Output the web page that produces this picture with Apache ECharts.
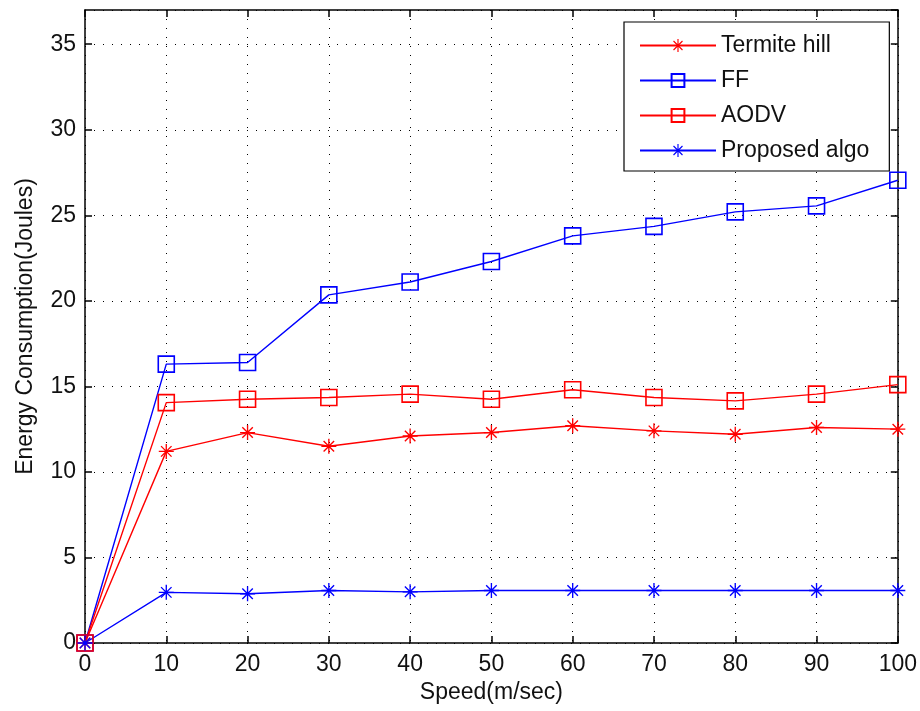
<!DOCTYPE html>
<html>
<head>
<meta charset="utf-8">
<script src="https://cdn.jsdelivr.net/npm/echarts@6/dist/echarts.min.js"></script>
<style>
  html, body { margin: 0; padding: 0; background: #fff; }
  #chart { width: 920px; height: 711px; }
</style>
</head>
<body>
<div id="chart"></div>
<script>
// Speed (m/sec) on the x axis
const speeds = [0, 10, 20, 30, 40, 50, 60, 70, 80, 90, 100];

// Energy consumption (Joules) per routing scheme
const termiteHill = [0, 11.2, 12.3, 11.5, 12.1, 12.3, 12.7, 12.4, 12.2, 12.6, 12.5];
const ffValues    = [0, 16.3, 16.4, 20.35, 21.1, 22.3, 23.8, 24.35, 25.2, 25.55, 27.05];
const aodvValues  = [0, 14.05, 14.25, 14.35, 14.55, 14.25, 14.8, 14.35, 14.15, 14.55, 15.1];
const proposed    = [0, 2.96, 2.88, 3.07, 2.99, 3.07, 3.07, 3.07, 3.07, 3.07, 3.07];

const seriesNames = ['Termite hill', 'FF', 'AODV', 'Proposed algo'];
const xTickStep = 10;
const yTickStep = 5;
const yMax = 37;

// Eight-point asterisk marker built from thin filled bars
const asterisk = 'path://M9.1 0L10.9 0L10.9 20L9.1 20Z' +
  'M0 9.1L20 9.1L20 10.9L0 10.9Z' +
  'M3.64 2.36L17.64 16.36L16.36 17.64L2.36 3.64Z' +
  'M16.36 2.36L17.64 3.64L3.64 17.64L2.36 16.36Z';

const RED = '#ff0000';
const BLUE = '#0000ff';
const FONT = 'Liberation Sans, Arial, sans-serif';
const FS = 23;

function pairs(ys) { return speeds.map((x, i) => [x, ys[i]]); }

function makeSeries(name, ys, color, marker) {
  const isStar = marker === 'star';
  return {
    name: name,
    type: 'line',
    data: pairs(ys),
    symbol: isStar ? asterisk : 'rect',
    symbolSize: isStar ? 15 : 16,
    showAllSymbol: true,
    lineStyle: { color: color, width: 1.4 },
    itemStyle: isStar
      ? { color: color, borderWidth: 0 }
      : { color: 'rgba(0,0,0,0)', borderColor: color, borderWidth: 1.6 },
    emphasis: { disabled: true },
    animation: false,
    z: 3
  };
}

const chart = echarts.init(document.getElementById('chart'), null, { renderer: 'canvas' });

const dotted = { color: '#000', width: 1, type: [1, 8] };

chart.setOption({
  backgroundColor: '#fff',
  animation: false,
  grid: { left: 85, right: 22, top: 10, bottom: 68, show: false },
  legend: {
    orient: 'vertical',
    left: 624,
    top: 22,
    data: seriesNames,
    itemWidth: 76,
    itemHeight: 16,
    itemGap: 12,
    padding: [12, 20, 9, 15],
    backgroundColor: '#fff',
    borderColor: '#000',
    borderWidth: 1.2,
    borderRadius: 0,
    textStyle: { fontFamily: FONT, fontSize: FS, color: '#111' },
    selectedMode: false
  },
  xAxis: [{
    type: 'value',
    min: 0, max: 100, interval: xTickStep,
    name: 'Speed(m/sec)',
    nameLocation: 'middle',
    nameGap: 37,
    nameTextStyle: { fontFamily: FONT, fontSize: FS, color: '#111' },
    axisLine: { onZero: false, lineStyle: { color: '#000', width: 1.5 } },
    axisTick: { inside: true, length: 7, lineStyle: { color: '#000', width: 1.5 } },
    axisLabel: { margin: 10, fontFamily: FONT, fontSize: FS, color: '#111' },
    splitLine: { show: true, lineStyle: dotted }
  }, {
    type: 'value',
    position: 'top',
    min: 0, max: 100, interval: xTickStep,
    axisLine: { onZero: false, lineStyle: { color: '#000', width: 1.5 } },
    axisTick: { inside: true, length: 7, lineStyle: { color: '#000', width: 1.5 } },
    axisLabel: { show: false },
    splitLine: { show: false }
  }],
  yAxis: [{
    type: 'value',
    min: 0, max: yMax, interval: yTickStep,
    name: 'Energy Consumption(Joules)',
    nameLocation: 'middle',
    nameGap: 48,
    nameTextStyle: { fontFamily: FONT, fontSize: FS, color: '#111' },
    axisLine: { show: true, onZero: false, lineStyle: { color: '#000', width: 1.5 } },
    axisTick: { show: true, inside: true, length: 7, lineStyle: { color: '#000', width: 1.5 } },
    axisLabel: { margin: 9, fontFamily: FONT, fontSize: FS, color: '#111', showMaxLabel: false },
    splitLine: { show: true, lineStyle: dotted }
  }, {
    type: 'value',
    position: 'right',
    min: 0, max: yMax, interval: yTickStep,
    axisLine: { show: true, onZero: false, lineStyle: { color: '#000', width: 1.5 } },
    axisTick: { show: true, inside: true, length: 7, lineStyle: { color: '#000', width: 1.5 } },
    axisLabel: { show: false },
    splitLine: { show: false }
  }],
  series: [
    makeSeries(seriesNames[0], termiteHill, RED, 'star'),
    makeSeries(seriesNames[1], ffValues, BLUE, 'square'),
    makeSeries(seriesNames[2], aodvValues, RED, 'square'),
    makeSeries(seriesNames[3], proposed, BLUE, 'star')
  ]
});
</script>
</body>
</html>
